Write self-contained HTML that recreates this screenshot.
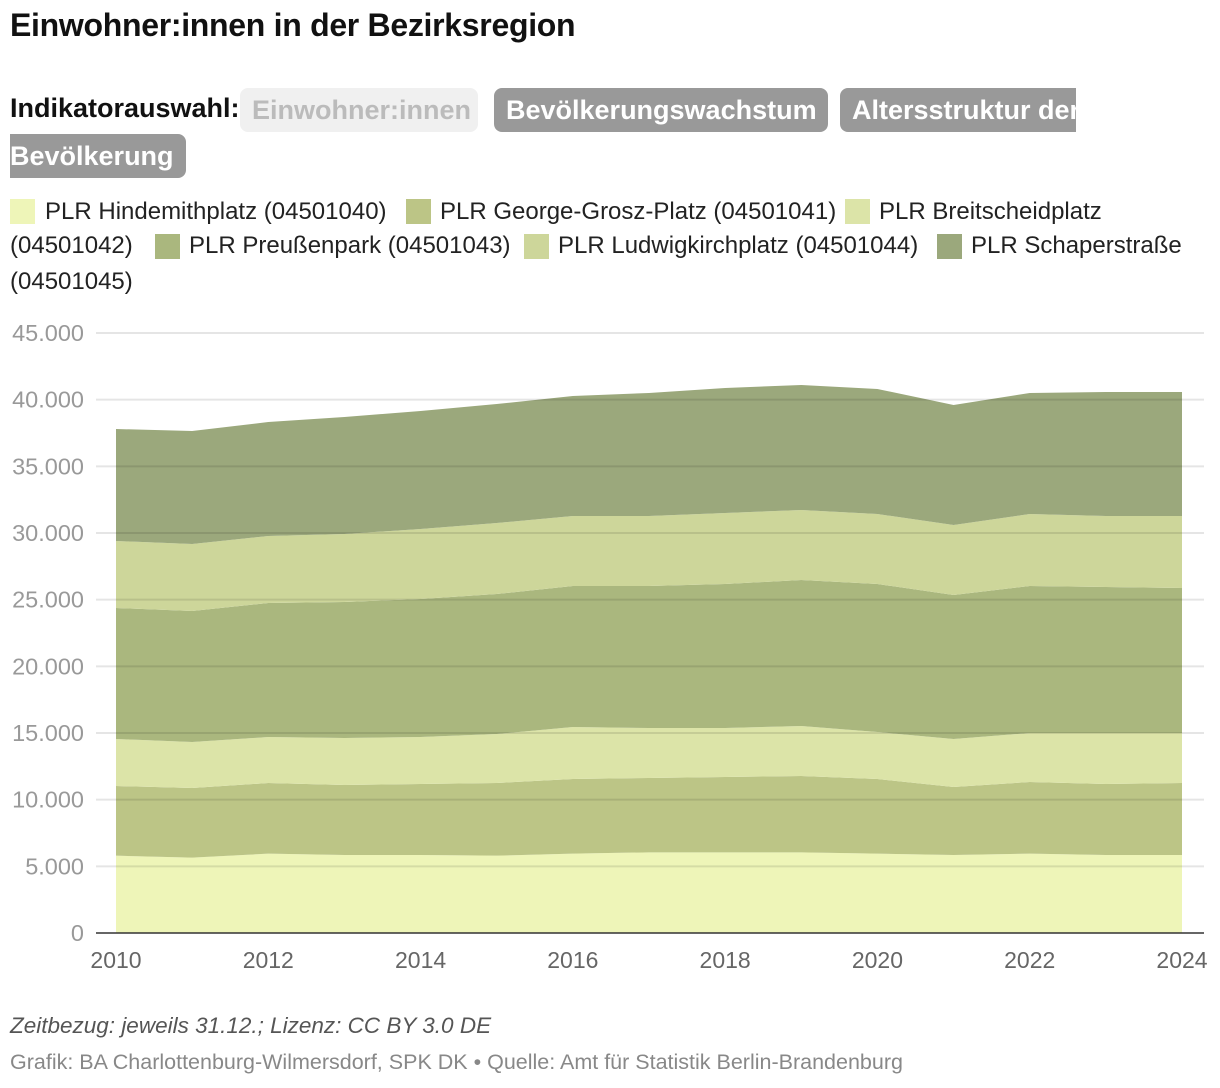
<!DOCTYPE html>
<html><head><meta charset="utf-8">
<style>
body{margin:0;width:1220px;height:1088px;background:#fff;font-family:"Liberation Sans",Arial,sans-serif;position:relative;overflow:hidden}
.t{position:absolute;left:10px;top:7px;font-size:32px;font-weight:bold;color:#111;letter-spacing:-0.3px}
.lbl{position:absolute;left:10px;top:93px;font-size:27px;font-weight:bold;color:#111}
.btn{position:absolute;height:44px;line-height:44px;border-radius:8px;font-size:27px;font-weight:bold;color:#fff;background:#999;padding:0 12px;box-sizing:border-box;white-space:nowrap;overflow:hidden}
.li{position:absolute;font-size:24px;color:#222;line-height:30px;white-space:nowrap}
.sw{position:absolute;width:25px;height:25px}
.f1{position:absolute;left:10px;top:1013px;font-size:22.5px;font-style:italic;color:#555}
.f2{position:absolute;left:10px;top:1050px;font-size:21.5px;color:#888}
</style></head><body>
<div class="t">Einwohner:innen in der Bezirksregion</div>
<div class="lbl">Indikatorauswahl:</div>
<div class="btn" style="left:240px;top:88px;width:238px;background:#f0f0f0;color:#bbb">Einwohner:innen</div>
<div class="btn" style="left:494px;top:88px;width:334px">Bevölkerungswachstum</div>
<div class="btn" style="left:840px;top:88px;width:236px;border-radius:8px 0 0 8px">Altersstruktur der</div>
<div class="btn" style="left:10px;top:134px;width:176px;padding-left:0;border-radius:0 8px 8px 0">Bevölkerung</div>

<div>
<div class="sw" style="left:10px;top:199px;background:#eef5b8"></div>
<div class="li" style="left:45px;top:197px">PLR Hindemithplatz (04501040)</div>
<div class="sw" style="left:406px;top:199px;background:#bcc586"></div>
<div class="li" style="left:440px;top:197px">PLR George-Grosz-Platz (04501041)</div>
<div class="sw" style="left:845px;top:199px;background:#dce4a8"></div>
<div class="li" style="left:879px;top:197px">PLR Breitscheidplatz</div>
<div class="li" style="left:10px;top:231px">(04501042)</div>
<div class="sw" style="left:155px;top:234px;background:#aab77e"></div>
<div class="li" style="left:189px;top:231px">PLR Preußenpark (04501043)</div>
<div class="sw" style="left:524px;top:234px;background:#cdd69a"></div>
<div class="li" style="left:558px;top:231px">PLR Ludwigkirchplatz (04501044)</div>
<div class="sw" style="left:937px;top:234px;background:#9ba87c"></div>
<div class="li" style="left:971px;top:231px">PLR Schaperstraße</div>
<div class="li" style="left:10px;top:267px">(04501045)</div>
</div>
<svg id="c" width="1220" height="1088" style="position:absolute;left:0;top:0"></svg>
<div class="f1">Zeitbezug: jeweils 31.12.; Lizenz: CC BY 3.0 DE</div>
<div class="f2">Grafik: BA Charlottenburg-Wilmersdorf, SPK DK • Quelle: Amt für Statistik Berlin-Brandenburg</div>
<script>
const years=[2010,2011,2012,2013,2014,2015,2016,2017,2018,2019,2020,2021,2022,2023,2024];
const hindemith=[5800,5650,5950,5850,5850,5800,5950,6050,6050,6050,5950,5850,5950,5850,5850];
const georgeGrosz=[5225,5225,5300,5250,5325,5450,5600,5575,5650,5725,5600,5100,5375,5325,5400];
const breitscheid=[3525,3450,3450,3525,3525,3675,3900,3750,3675,3750,3525,3600,3675,3825,3750];
const preussenpark=[9825,9825,10050,10200,10350,10500,10575,10650,10800,10950,11100,10800,11025,10950,10875];
const ludwigkirch=[5025,5025,5025,5100,5250,5325,5250,5250,5325,5250,5250,5250,5400,5325,5400];
const schaper=[8400,8475,8550,8775,8850,8925,9000,9225,9375,9375,9375,9000,9075,9300,9300];
const yTicks=[0,5000,10000,15000,20000,25000,30000,35000,40000,45000];
const xTicks=[2010,2012,2014,2016,2018,2020,2022,2024];
const series=[hindemith,georgeGrosz,breitscheid,preussenpark,ludwigkirch,schaper];
const colors=["#eef5b8","#bcc586","#dce4a8","#aab77e","#cdd69a","#9ba87c"];
const names=["hindemithplatz","george-grosz-platz","breitscheidplatz","preussenpark","ludwigkirchplatz","schaperstrasse"];
const NS="http://www.w3.org/2000/svg";
const svg=document.getElementById('c');
const x=v=>116+(v-2010)*(1182-116)/14;
const y=v=>933-v*600/45000;
function mk(t,a){const e=document.createElementNS(NS,t);for(const k in a)e.setAttribute(k,a[k]);svg.appendChild(e);return e;}
let base=years.map(()=>0);
series.forEach((s,i)=>{
  const top=base.map((b,j)=>b+s[j]);
  let d="M"+years.map((yr,j)=>x(yr)+","+y(top[j])).join(" L");
  for(let j=years.length-1;j>=0;j--)d+=" L"+x(years[j])+","+y(base[j]);
  const p=mk('path',{d:d+"Z",fill:colors[i]});
  
  
  base=top;
});
yTicks.forEach(t=>{
  const l=mk('line',{x1:96,x2:1204,y1:y(t),y2:y(t),stroke:t===0?"#333":"rgba(0,0,0,0.1)","stroke-width":t===0?1.5:2});
  
  
  const tx=mk('text',{x:84,y:y(t)+8,"text-anchor":"end","font-size":23.5,fill:"#999","font-family":"Liberation Sans, sans-serif"});
  tx.textContent=t>=1000?Math.floor(t/1000)+".000":String(t);
  
  
});
xTicks.forEach(t=>{
  const tx=mk('text',{x:x(t),y:968,"text-anchor":"middle","font-size":23,fill:"#666","font-family":"Liberation Sans, sans-serif"});
  tx.textContent=t;
  
  
});
</script>
</body></html>
